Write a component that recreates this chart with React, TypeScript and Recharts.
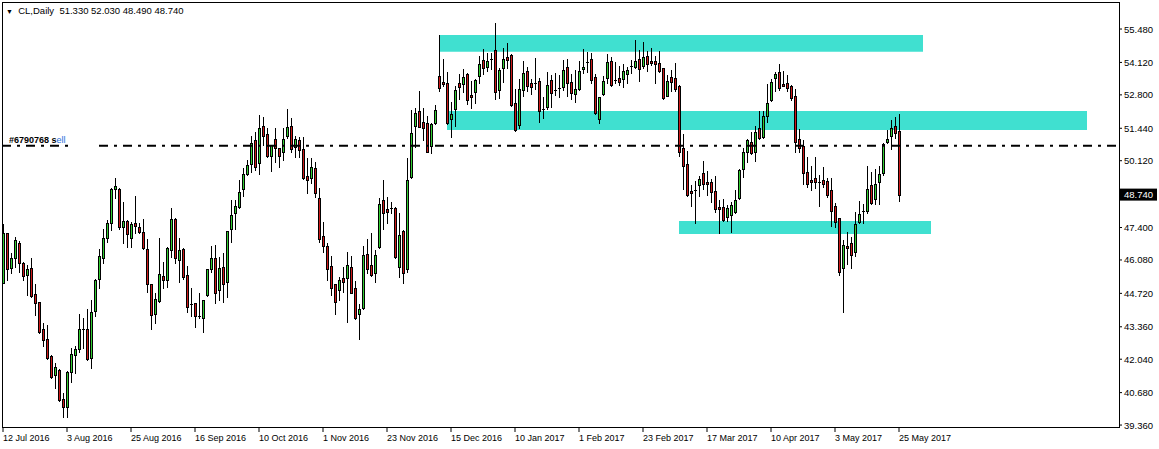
import React from 'react';
import { ComposedChart, Bar, XAxis, YAxis, ReferenceArea, ReferenceLine } from 'recharts';

// CL daily candles, 12 Jul 2016 .. 25 May 2017
const open = [
  45.15, 47.16, 45.74, 46.14, 46.79, 45.94, 45.46, 45.74, 44.68, 44.35, 43.29, 42.85, 42.17, 41.39, 41.62, 40.44, 40.10, 41.53, 42.21, 42.44,
  43.28, 43.25, 42.10, 44.01, 45.29, 46.14, 46.96, 47.57, 48.95, 48.95, 47.43, 47.67, 46.96, 47.57, 47.41, 47.20, 46.52, 45.09, 43.86, 44.42,
  45.42, 45.26, 46.48, 47.74, 46.07, 46.52, 45.46, 44.28, 44.31, 43.80, 43.70, 44.65, 45.70, 46.14, 44.85, 45.78, 45.19, 47.36, 48.00, 48.25,
  48.95, 49.58, 49.97, 50.96, 50.01, 51.53, 51.19, 50.32, 50.99, 50.62, 50.46, 51.14, 51.54, 50.66, 50.96, 50.58, 49.49, 49.40, 49.81, 48.59,
  47.05, 46.65, 45.83, 45.10, 44.85, 45.33, 45.33, 45.80, 44.95, 43.90, 44.11, 46.32, 45.87, 45.56, 46.62, 48.52, 48.15, 48.18, 48.18, 45.80,
  47.26, 45.70, 49.44, 51.53, 52.14, 51.68, 51.64, 50.73, 51.64, 53.57, 53.34, 53.27, 51.80, 52.21, 53.27, 53.23, 53.65, 52.79, 52.90, 53.57,
  54.22, 53.92, 54.24, 54.62, 53.00, 53.88, 54.33, 54.42, 52.45, 51.57, 53.00, 53.77, 53.27, 53.27, 53.36, 52.24, 52.29, 53.40, 53.00, 53.02,
  53.10, 53.92, 53.31, 52.82, 53.02, 53.84, 54.12, 54.24, 53.51, 51.80, 52.82, 53.47, 54.19, 53.40, 53.47, 53.44, 53.65, 53.97, 53.95, 54.24,
  53.97, 54.38, 54.18, 54.18, 54.08, 53.88, 52.77, 53.51, 53.47, 53.16, 50.62, 49.97, 48.88, 48.92, 49.13, 49.60, 49.26, 49.26, 48.90, 48.22,
  48.22, 47.81, 47.91, 48.04, 48.59, 49.77, 50.49, 50.89, 50.49, 51.44, 51.10, 51.95, 52.59, 53.47, 53.72, 53.23, 53.27, 53.16, 52.75, 50.99,
  50.73, 49.64, 49.33, 49.40, 49.27, 49.33, 49.29, 48.92, 48.27, 47.77, 45.74, 46.65, 46.79, 46.41, 47.61, 48.06, 48.08, 49.13, 48.55, 49.26,
  49.63, 50.89, 51.12, 51.53, 51.33,
];
const high = [
  47.54, 47.19, 46.35, 47.00, 46.85, 46.00, 45.87, 46.18, 45.10, 44.38, 43.52, 43.42, 42.20, 41.87, 41.65, 40.67, 41.55, 42.48, 42.57, 43.88,
  43.70, 44.07, 44.45, 45.29, 46.51, 47.32, 47.70, 48.99, 49.40, 49.00, 48.45, 47.70, 47.64, 48.68, 47.57, 47.74, 46.93, 45.12, 44.72, 46.96,
  46.01, 46.60, 48.18, 47.78, 46.96, 46.55, 45.83, 44.92, 44.33, 44.72, 44.47, 45.72, 46.65, 46.69, 46.21, 46.35, 47.26, 48.54, 48.54, 49.33,
  49.81, 50.15, 51.12, 51.30, 51.98, 51.91, 51.46, 50.76, 51.44, 50.64, 51.44, 52.22, 51.87, 51.12, 51.10, 51.07, 50.25, 50.25, 50.05, 48.99,
  47.64, 46.75, 46.24, 45.12, 45.37, 45.80, 46.41, 46.24, 45.22, 44.28, 46.65, 46.93, 47.16, 46.48, 48.59, 49.33, 48.65, 48.45, 48.22, 47.98,
  47.30, 50.24, 52.18, 52.25, 52.96, 52.28, 51.94, 51.67, 52.39, 55.23, 54.24, 53.74, 52.52, 53.16, 53.65, 53.85, 53.67, 53.38, 53.44, 54.38,
  54.65, 54.52, 54.52, 55.74, 53.91, 54.72, 54.92, 54.46, 53.02, 53.44, 54.18, 53.92, 53.44, 54.31, 53.50, 52.72, 53.74, 53.61, 53.70, 53.61,
  54.22, 54.26, 53.65, 53.81, 54.17, 54.66, 54.53, 54.49, 53.65, 52.72, 53.57, 54.46, 54.33, 54.15, 53.97, 54.04, 53.95, 54.22, 55.03, 54.62,
  54.94, 54.60, 54.69, 54.38, 54.58, 53.90, 53.61, 53.81, 54.11, 53.20, 51.20, 50.51, 49.13, 49.29, 49.49, 50.11, 49.70, 49.37, 49.49, 48.54,
  48.56, 48.31, 48.45, 48.92, 49.77, 50.62, 50.99, 51.30, 51.53, 52.14, 52.14, 53.24, 53.44, 53.74, 54.05, 53.77, 53.61, 53.20, 53.02, 51.41,
  50.96, 50.28, 49.92, 50.28, 49.54, 49.85, 49.40, 49.40, 48.38, 47.80, 46.89, 47.20, 47.03, 48.02, 48.48, 48.34, 49.92, 49.64, 49.78, 49.90,
  50.83, 51.39, 51.77, 51.91, 52.03,
];
const low = [
  45.13, 45.26, 45.56, 45.80, 45.60, 45.26, 44.65, 44.58, 43.84, 43.09, 42.57, 42.03, 41.29, 40.85, 40.34, 39.67, 39.67, 41.12, 41.49, 42.34,
  42.48, 42.00, 41.69, 43.80, 44.92, 45.94, 46.82, 47.30, 48.59, 47.32, 46.75, 46.59, 46.59, 47.19, 47.16, 46.51, 44.79, 43.29, 43.50, 44.38,
  44.92, 44.96, 46.21, 45.97, 45.19, 45.29, 43.95, 43.80, 43.36, 43.70, 43.13, 44.63, 45.60, 44.34, 44.47, 44.38, 44.58, 46.82, 47.32, 48.20,
  48.68, 49.54, 49.67, 49.74, 49.58, 50.76, 50.28, 49.71, 50.08, 49.87, 50.15, 51.03, 50.49, 50.28, 50.28, 49.37, 48.82, 49.22, 48.65, 46.82,
  46.41, 45.26, 44.65, 43.90, 44.47, 44.79, 43.56, 44.72, 43.66, 42.85, 44.07, 45.56, 45.42, 45.19, 46.55, 47.32, 47.60, 47.98, 46.17, 45.40,
  45.15, 45.60, 49.40, 50.66, 51.48, 50.96, 50.47, 50.42, 51.61, 52.97, 53.16, 51.61, 51.07, 51.53, 52.62, 52.93, 52.43, 52.25, 52.48, 53.27,
  53.65, 53.78, 53.84, 52.62, 52.68, 53.34, 53.88, 52.35, 51.34, 51.44, 52.77, 52.97, 52.83, 53.02, 51.71, 51.84, 52.21, 52.32, 52.79, 52.72,
  53.00, 52.77, 52.63, 52.52, 53.00, 53.67, 53.74, 53.27, 52.03, 51.67, 52.79, 53.27, 53.16, 53.27, 53.20, 53.10, 53.27, 53.70, 53.91, 53.38,
  53.88, 53.78, 54.01, 53.29, 53.74, 52.64, 52.75, 52.97, 52.97, 50.32, 48.97, 48.69, 48.29, 47.60, 48.69, 48.97, 48.72, 48.45, 48.04, 47.16,
  47.68, 47.68, 47.23, 47.98, 48.56, 49.47, 50.08, 50.38, 50.12, 50.99, 51.06, 51.71, 52.56, 52.97, 53.00, 53.16, 52.97, 52.59, 50.49, 50.49,
  49.17, 49.06, 48.93, 49.02, 48.27, 49.06, 48.65, 47.46, 47.43, 45.46, 43.97, 45.91, 45.76, 46.25, 47.60, 47.60, 47.98, 48.36, 48.36, 48.34,
  49.54, 50.85, 50.58, 51.06, 48.49,
];
const close = [
  47.19, 45.70, 46.14, 46.89, 45.94, 45.42, 45.70, 44.61, 44.34, 43.13, 42.82, 42.10, 41.33, 41.71, 40.40, 40.08, 41.53, 42.25, 42.44, 43.29,
  43.25, 42.03, 43.97, 45.26, 46.24, 46.96, 47.60, 48.95, 49.09, 47.43, 47.66, 47.13, 47.53, 47.46, 47.20, 46.55, 45.09, 43.84, 44.51, 45.51,
  45.26, 46.58, 47.74, 46.14, 46.48, 45.40, 44.15, 44.26, 43.80, 43.79, 44.45, 45.70, 46.18, 44.72, 45.76, 45.09, 47.24, 47.93, 48.29, 48.86,
  49.58, 49.94, 50.83, 49.87, 51.44, 51.12, 50.31, 50.76, 50.62, 50.32, 50.99, 51.48, 50.58, 50.99, 50.55, 49.40, 49.33, 49.85, 48.82, 46.92,
  46.66, 45.70, 44.92, 44.38, 45.26, 45.19, 45.87, 44.75, 43.70, 44.10, 46.28, 45.70, 45.46, 46.28, 48.35, 47.98, 48.04, 48.17, 46.21, 47.09,
  45.53, 49.33, 51.23, 52.05, 51.50, 51.46, 50.49, 51.60, 52.18, 53.09, 53.23, 51.67, 52.01, 53.00, 53.10, 53.51, 52.59, 52.72, 53.40, 54.04,
  53.88, 54.18, 54.26, 52.90, 53.81, 54.24, 54.22, 52.37, 51.37, 53.02, 53.67, 53.16, 53.10, 53.23, 52.14, 52.22, 53.20, 52.86, 52.99, 53.06,
  53.81, 53.27, 52.86, 53.04, 53.77, 53.95, 54.13, 53.40, 52.05, 52.70, 53.36, 54.14, 53.19, 53.41, 53.34, 53.77, 53.81, 53.98, 54.18, 53.84,
  54.33, 54.05, 54.08, 54.04, 53.77, 52.66, 53.36, 53.34, 53.02, 50.46, 49.90, 48.72, 48.79, 48.93, 49.36, 49.16, 49.16, 48.83, 48.14, 48.14,
  47.70, 48.18, 48.31, 48.52, 49.74, 50.46, 50.96, 50.42, 51.27, 51.03, 51.94, 52.45, 53.31, 53.63, 53.06, 53.17, 53.06, 52.66, 50.89, 50.62,
  49.60, 49.16, 49.26, 49.26, 49.26, 49.16, 48.72, 48.08, 47.64, 45.60, 46.69, 46.55, 46.28, 47.54, 47.97, 48.07, 48.95, 48.41, 49.17, 49.58,
  50.80, 51.00, 51.44, 51.23, 48.74,
];

// date labels on the time axis (bar index -> label), one every 16 bars
const tickBars = [0, 16, 32, 48, 64, 80, 96, 112, 128, 144, 160, 176, 192, 208, 224];
const tickLabels = [
  '12 Jul 2016', '3 Aug 2016', '25 Aug 2016', '16 Sep 2016', '10 Oct 2016', '1 Nov 2016', '23 Nov 2016', '15 Dec 2016',
  '10 Jan 2017', '1 Feb 2017', '23 Feb 2017', '17 Mar 2017', '10 Apr 2017', '3 May 2017', '25 May 2017',
];
const priceTicks = [55.48, 54.12, 52.8, 51.44, 50.12, 48.74, 47.4, 46.08, 44.72, 43.36, 42.04, 40.68, 39.36];

// drawn rectangles (support / resistance zones)
const zoneFrom = [109, 111, 169];
const zoneTo = [230, 271, 232];
const zoneTop = [55.24, 52.14, 47.67];
const zoneBottom = [54.56, 51.37, 47.14];

const tradePrice = 50.73;
const lastPrice = 48.74;

const GREEN = '#32CD32';
const RED = '#CD1A1A';
const FONT = '"Liberation Sans", Arial, sans-serif';

const data = open.map((o, i) => ({ i, o, h: high[i], l: low[i], c: close[i], range: [low[i], high[i]] }));

function Candle(props: any) {
  const { x, y, width, height, payload } = props;
  const { o, h, l, c } = payload;
  const cx = Math.round(x + width / 2);
  const toY = (v: number) => y + ((h - v) / (h - l || 1)) * height;
  const top = Math.round(toY(Math.max(o, c)));
  const bot = Math.round(toY(Math.min(o, c)));
  const yh = Math.round(y);
  const yl = Math.round(y + height);
  return (
    <g shapeRendering="crispEdges">
      <rect x={cx} y={yh} width={1} height={Math.max(1, yl - yh + 1)} fill="#000" />
      {bot - top < 2 ? (
        <rect x={cx - 1} y={top} width={3} height={1} fill="#000" />
      ) : (
        <>
          <rect x={cx - 1} y={top} width={3} height={bot - top + 1} fill="#000" />
          <rect x={cx} y={top + 1} width={1} height={bot - top - 1} fill={c >= o ? GREEN : RED} />
        </>
      )}
    </g>
  );
}

function XTick(props: any) {
  const { x, y, payload } = props;
  const label = tickLabels[tickBars.indexOf(payload.value)];
  if (!label) return null;
  return (
    <text x={x} y={y + 7} fontSize={9} fontFamily={FONT} fill="#000" textAnchor="start">
      {label}
    </text>
  );
}

function YTick(props: any) {
  const { x, y, payload } = props;
  const v = payload.value;
  if (v === lastPrice) {
    return (
      <g>
        <rect x={x - 4} y={y - 6} width={37} height={12} fill="#000" />
        <text x={x} y={y + 3.5} fontSize={9.5} fontFamily={FONT} fill="#fff">
          {v.toFixed(3)}
        </text>
      </g>
    );
  }
  return (
    <text x={x} y={y + 3.5} fontSize={9.5} fontFamily={FONT} fill="#000">
      {v.toFixed(3)}
    </text>
  );
}

export default function App() {
  return (
    <div style={{ position: 'absolute', left: 0, top: 0, width: 1159, height: 449, background: '#fff', fontFamily: FONT }}>
      <ComposedChart width={1159} height={449} data={data} margin={{ top: 2, right: 0, bottom: 0, left: 2 }}>
        <XAxis
          dataKey="i"
          type="number"
          domain={[-0.25, 279]}
          allowDataOverflow
          ticks={tickBars}
          interval={0}
          height={21}
          axisLine={false}
          tickSize={4}
          tickMargin={2}
          tickLine={{ stroke: '#000' }}
          tick={<XTick />}
        />
        <YAxis
          type="number"
          orientation="right"
          domain={[39.24, 56.58]}
          allowDataOverflow
          ticks={priceTicks}
          interval={0}
          width={40}
          axisLine={false}
          tickSize={3}
          tickMargin={2}
          tickLine={{ stroke: '#000' }}
          tick={<YTick />}
        />
        {zoneFrom.map((x1, k) => (
          <ReferenceArea
            key={k}
            x1={x1}
            x2={zoneTo[k]}
            y1={zoneBottom[k]}
            y2={zoneTop[k]}
            fill="#40E0D0"
            fillOpacity={1}
            stroke="none"
            ifOverflow="visible"
          />
        ))}
        <ReferenceLine
          segment={[{ x: -0.25, y: tradePrice }, { x: 16.25, y: tradePrice }]}
          stroke="#000"
          strokeWidth={2}
          strokeDasharray="9 6 3 6"
        />
        <ReferenceLine
          segment={[{ x: 24, y: tradePrice }, { x: 279, y: tradePrice }]}
          stroke="#000"
          strokeWidth={2}
          strokeDasharray="9 6 3 6"
        />
        <Bar dataKey="range" barSize={3} isAnimationActive={false} shape={<Candle />} />
      </ComposedChart>
      <div
        style={{
          position: 'absolute', left: 2, top: 2, width: 1118, height: 426,
          border: '1px solid #000', boxSizing: 'border-box', pointerEvents: 'none',
        }}
      />
      <div style={{ position: 'absolute', left: 6, top: 6, fontSize: 9.5, lineHeight: '9px', color: '#000', whiteSpace: 'pre' }}>
        <span style={{ fontSize: 7 }}>▼</span>
        {'  CL,Daily  51.330 52.030 48.490 48.740'}
      </div>
      <div style={{ position: 'absolute', left: 9, top: 136, fontSize: 9, lineHeight: '9px', fontWeight: 'bold', color: '#000', whiteSpace: 'pre' }}>
        #6790768 s<span style={{ color: '#1E6FD9', fontWeight: 'normal' }}>ell</span>
      </div>
    </div>
  );
}
